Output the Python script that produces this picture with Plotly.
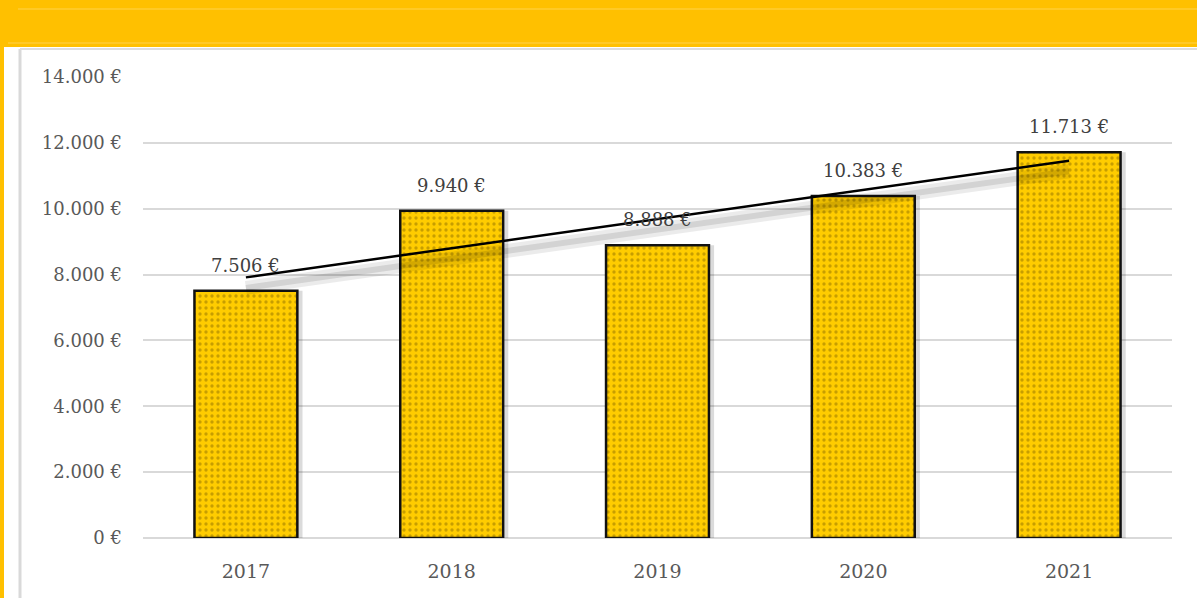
import plotly.graph_objects as go
import numpy as np

years = ["2017", "2018", "2019", "2020", "2021"]
values = [7506, 9940, 8888, 10383, 11713]
tick_vals = [0, 2000, 4000, 6000, 8000, 10000, 12000, 14000]

def fmt(v):
    return f"{v:,.0f}".replace(",", ".") + " €"

xpos = list(range(len(years)))

# linear trend line (least squares) over the categories
slope, intercept = np.polyfit(xpos, values, 1)
trend_x = [xpos[0], xpos[-1]]
trend_ends = [slope * x + intercept for x in trend_x]

FONT = "DejaVu Serif"

fig = go.Figure()

# bar shadows
fig.add_trace(go.Bar(
    x=xpos, y=values, width=0.52, offset=-0.245,
    marker=dict(color="rgba(0,0,0,0.14)", line=dict(width=0)),
    hoverinfo="skip", showlegend=False,
))
fig.add_trace(go.Bar(
    x=xpos, y=values, width=0.5,
    marker=dict(
        color="#FFCC00",
        line=dict(color="#111111", width=2.5),
        pattern=dict(shape=".", fgcolor="#8f7000", bgcolor="#FFCC00", size=6, solidity=0.25),
    ),
    showlegend=False,
))
# trend shadow
shadow_off = 320
fig.add_trace(go.Scatter(
    x=trend_x, y=[v - shadow_off for v in trend_ends], mode="lines",
    line=dict(color="rgba(0,0,0,0.08)", width=14), hoverinfo="skip", showlegend=False,
))
fig.add_trace(go.Scatter(
    x=trend_x, y=[v - shadow_off for v in trend_ends], mode="lines",
    line=dict(color="rgba(0,0,0,0.10)", width=6), hoverinfo="skip", showlegend=False,
))
fig.add_trace(go.Scatter(
    x=trend_x, y=trend_ends, mode="lines",
    line=dict(color="#000000", width=2.5), showlegend=False,
))

for x, v in zip(xpos, values):
    fig.add_annotation(x=x, y=v, text=fmt(v), showarrow=False, yanchor="bottom",
                       yshift=13, font=dict(family=FONT, size=18, color="#404040"))

fig.update_layout(
    width=1197, height=598,
    margin=dict(l=143, r=25, t=77, b=60),
    paper_bgcolor="white", plot_bgcolor="white",
    barmode="overlay",
    separators=",.",
    xaxis=dict(range=[-0.5, len(years) - 0.5], tickvals=xpos, ticktext=years,
               showgrid=False, showline=False, zeroline=False, ticks="",
               tickfont=dict(family=FONT, size=19, color="#595959"), ticklabelstandoff=20),
    yaxis=dict(range=[0, 14000], tickvals=tick_vals, ticktext=[fmt(t) for t in tick_vals],
               showgrid=True, gridcolor="#d9d9d9", gridwidth=1.5, zeroline=True,
               zerolinecolor="#d9d9d9", zerolinewidth=2, showline=False, ticks="",
               tickfont=dict(family=FONT, size=18, color="#595959"), ticklabelstandoff=20),
    shapes=[
        dict(type="rect", xref="paper", yref="paper", x0=-0.2, x1=1.05,
             y0=1 + 30 / 461, y1=1.2, fillcolor="#FFC000", line=dict(width=0), layer="below"),
        dict(type="rect", xref="paper", yref="paper", x0=-143 / 1029, x1=-139 / 1029,
             y0=-0.2, y1=1.2, fillcolor="#FFC000", line=dict(width=0), layer="below"),
        dict(type="line", xref="paper", yref="paper", x0=-123 / 1029, x1=-123 / 1029,
             y0=-0.2, y1=1 + 28 / 461, line=dict(color="#d9d9d9", width=3)),
        dict(type="line", xref="paper", yref="paper", x0=-123 / 1029, x1=1.05,
             y0=1 + 28 / 461, y1=1 + 28 / 461, line=dict(color="#dddddd", width=2)),
        dict(type="line", xref="paper", yref="paper", x0=-135 / 1029, x1=1.05,
             y0=1 + 34 / 461, y1=1 + 34 / 461, line=dict(color="#FFD24D", width=1)),
        dict(type="line", xref="paper", yref="paper", x0=-125 / 1029, x1=1.05,
             y0=1 + 68 / 461, y1=1 + 68 / 461, line=dict(color="#FFD24D", width=1)),
    ],
)

fig.write_html("out.html", config={"displayModeBar": False},
               post_script="document.body.style.margin='0';document.body.style.overflow='hidden';")
